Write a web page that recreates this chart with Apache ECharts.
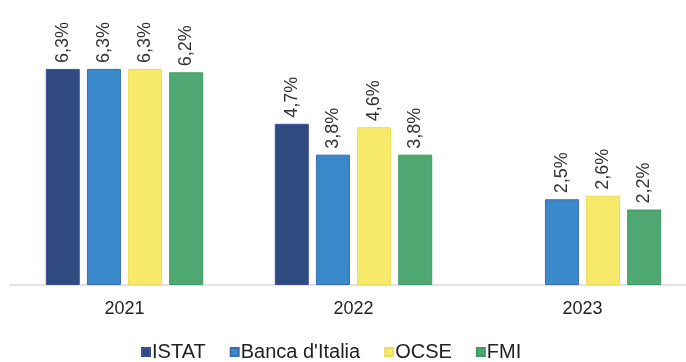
<!DOCTYPE html>
<html>
<head>
<meta charset="utf-8">
<script src="https://cdn.jsdelivr.net/npm/echarts@6/dist/echarts.min.js"></script>
<style>
  html, body { margin: 0; padding: 0; background: #fff; overflow: hidden; }
  #chart { width: 698px; height: 362px; }
</style>
</head>
<body>
<div id="chart"></div>
<script>
// years on the x axis
var years = ['2021', '2022', '2023'];
// forecast values (%), per source
var istat = [6.3, 4.7, null];
var bancaItalia = [6.3, 3.8, 2.5];
var ocse = [6.3, 4.6, 2.6];
var fmi = [6.2, 3.8, 2.2];

var fontName = '"Liberation Sans", Arial, sans-serif';

function pct(p) {
    return p.value.toFixed(1).replace('.', ',') + '%';
}

function makeSeries(name, data, fill, border) {
    return {
        name: name,
        type: 'bar',
        data: data,
        barWidth: 34,
        barGap: '21%',
        itemStyle: { color: fill, borderColor: border, borderWidth: 1 },
        label: {
            show: true,
            position: 'top',
            rotate: 90,
            align: 'left',
            verticalAlign: 'middle',
            distance: 6,
            formatter: pct,
            color: '#333',
            fontSize: 18,
            fontFamily: fontName
        }
    };
}

// chart div is a bit wider than the window: the plot runs past the right edge
var myChart = echarts.init(document.getElementById('chart'));
myChart.setOption({
    animation: false,
    grid: { left: 10, right: 1, top: 10.6, bottom: 77 },
    legend: {
        bottom: -5,
        left: 136,
        icon: 'rect',
        itemWidth: 8,
        itemHeight: 8,
        itemGap: 24,
        textStyle: { color: '#222', fontSize: 20, fontFamily: fontName, padding: [0, 0, 0, -3] },
        data: ['ISTAT', "Banca d'Italia", 'OCSE', 'FMI']
    },
    xAxis: {
        type: 'category',
        data: years,
        axisLine: { lineStyle: { color: '#d9d9d9', width: 1.5 } },
        axisTick: { show: false },
        axisLabel: { color: '#222', fontSize: 18, fontFamily: fontName, margin: 15 }
    },
    yAxis: {
        type: 'value',
        min: 0,
        max: 8,
        show: false,
        splitLine: { show: false }
    },
    series: [
        makeSeries('ISTAT', istat, '#2f4a7e', '#3d4f9c'),
        makeSeries("Banca d'Italia", bancaItalia, '#3a89ca', '#3c6db3'),
        makeSeries('OCSE', ocse, '#f7e96a', '#eedd5c'),
        makeSeries('FMI', fmi, '#4fa872', '#3d9a60')
    ]
});
</script>
</body>
</html>
